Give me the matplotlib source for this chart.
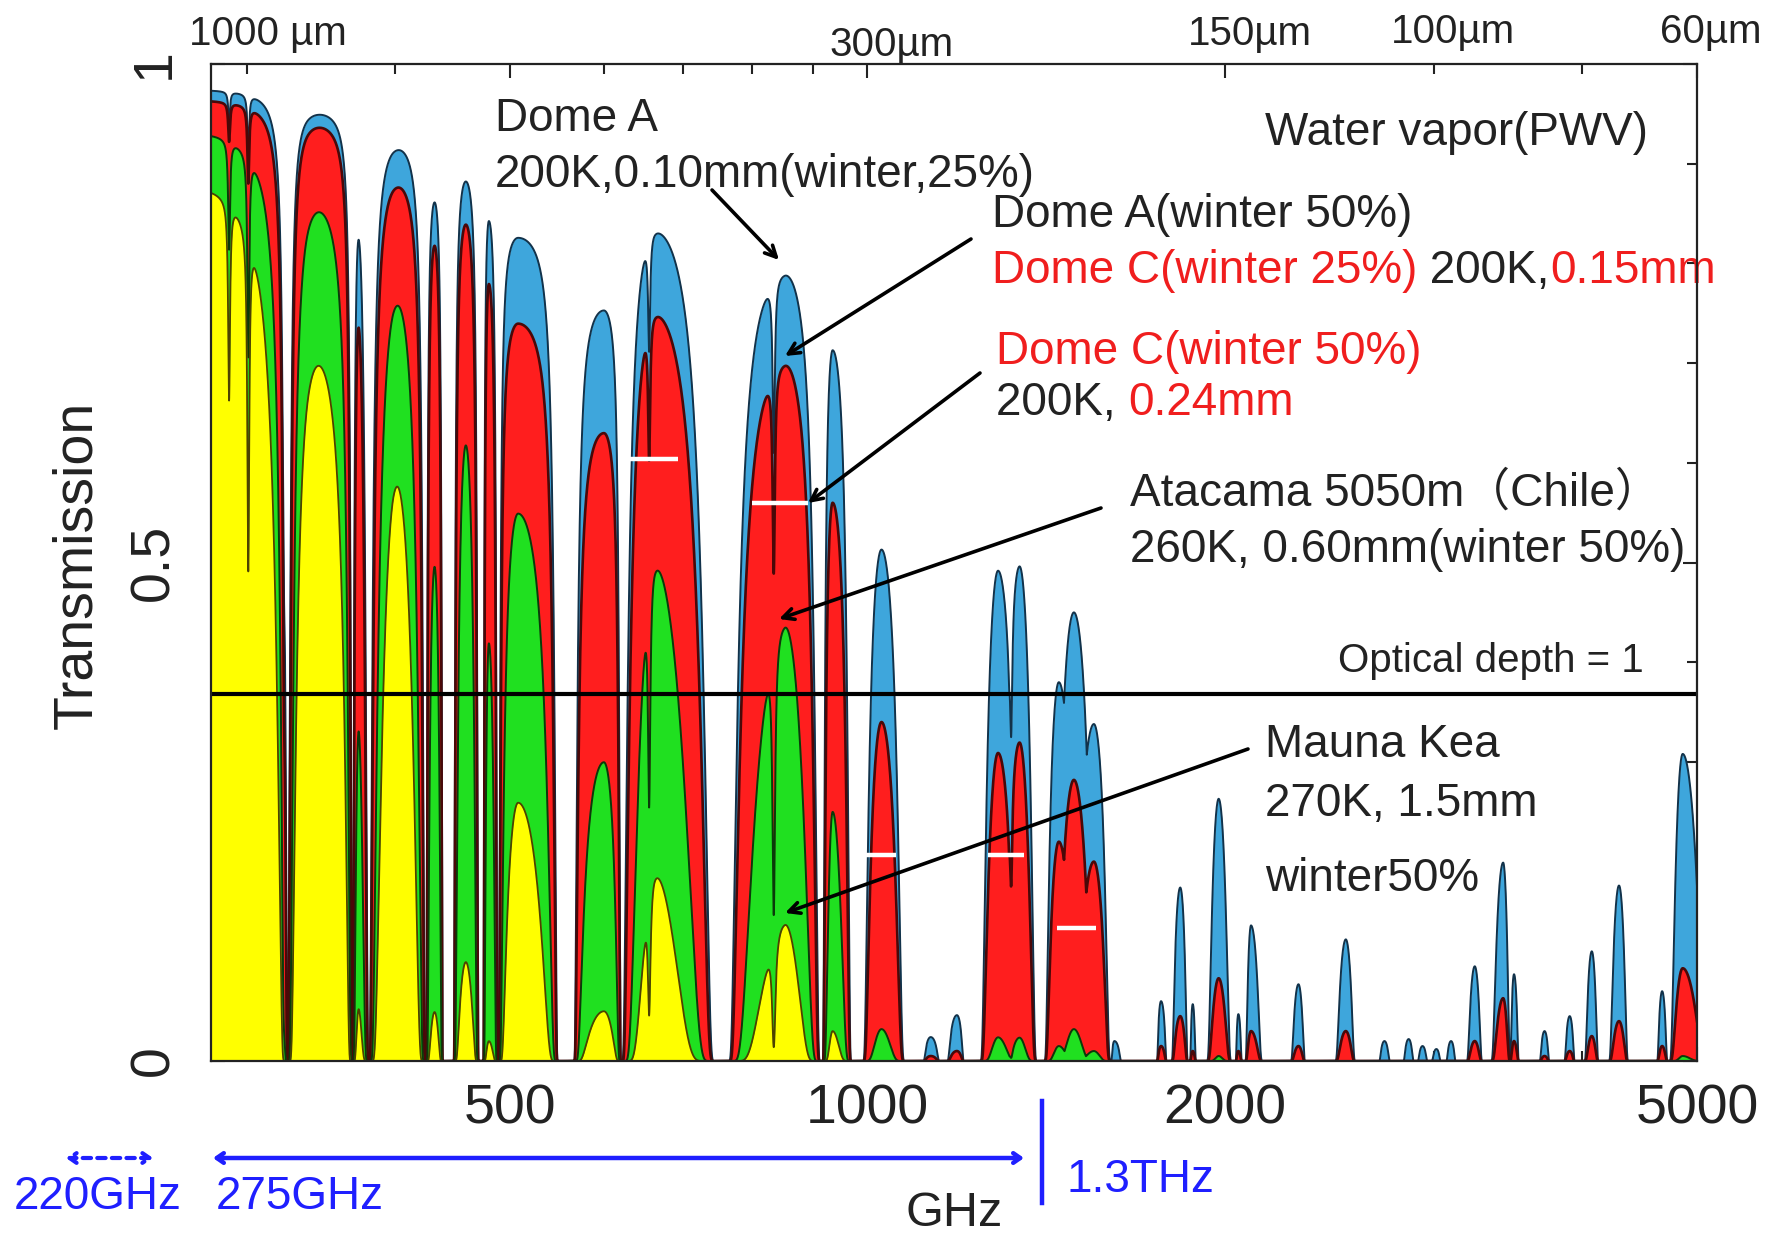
import numpy as np
import matplotlib
matplotlib.use("Agg")
import matplotlib.pyplot as plt
from matplotlib.ticker import FixedLocator, FixedFormatter, NullFormatter

W, H = 1771, 1238
plt.rcParams['font.family'] = ['Liberation Sans', 'Noto Sans CJK SC', 'DejaVu Sans']

# ---------------- data ----------------
# layers (back to front): PWV in mm
LAYER_PWV = [0.10, 0.15, 0.60, 1.5]
LAYER_COLORS = ['#3ea6dc', '#ff1e1e', '#20e020', '#ffff00']
LAYER_EDGES = ['#12324a', '#4a0808', '#0a3a0a', '#4d4200']
LAYER_EDGE_LW = [1.4, 1.9, 1.4, 1.3]

# atmospheric windows: peak frequency, bounding lines (GHz), sharpness
WIN_PEAK = [280, 338, 373, 399, 432, 459, 480, 508, 600, 662, 852, 935, 1028, 1131, 1190,
            1289, 1343, 1450, 1493, 1552, 1615, 1768, 1835, 1880, 1977, 2054,
            2105, 2308, 2530, 2727, 2858, 2936, 3016, 3103, 3249, 3433, 3506,
            3720, 3906, 4077, 4298, 4673, 4863]
WIN_LO = [230, 325.2, 368.5, 380.2, 424.8, 448, 474.7, 488.5, 565, 619, 760, 916, 988,
          1113, 1165, 1240, 1280, 1405, 1425, 1480, 1604, 1752, 1800, 1869, 1925, 2042,
          2078, 2268, 2470, 2695, 2825, 2905, 2985, 3070, 3190, 3340, 3475,
          3680, 3860, 4010, 4200, 4620, 4720]
WIN_HI = [325.2, 368.5, 380.2, 424.8, 439.2, 470.9, 488.5, 550, 621, 748, 916, 972, 1080,
          1153, 1208, 1360, 1395, 1515, 1570, 1610, 1640, 1790, 1867, 1893, 2035, 2070,
          2160, 2344, 2585, 2760, 2890, 2968, 3045, 3135, 3305, 3490, 3545,
          3760, 3950, 4140, 4390, 4730, 5150]
WIN_SHARP = [0.002, 0.004, 0.08, 0.03, 0.08, 0.06, 0.1, 0.04, 0.06, 0.15, 0.12, 0.2, 0.4,
             0.5, 0.5, 0.5, 0.5, 0.5, 0.5, 0.5, 0.5, 0.5, 0.6, 0.6, 0.8, 0.6,
             0.8, 0.8, 0.8, 0.6, 0.6, 0.6, 0.6, 0.6, 0.8, 0.8, 0.7,
             0.6, 0.6, 0.8, 0.8, 0.7, 0.8]
# peak transmission of every window for each layer
T_010 = [.975, .96, .93, .924, .863, .883, .843, .826, .753, .833, .79, .713, .513,
         .024, .046, .493, .499, .38, .45, .338, .02, .06, .174, .057, .263, .047,
         .136, .077, .122, .02, .022, .015, .012, .02, .095, .199, .087,
         .03, .045, .11, .176, .07, .308]
T_015 = [.965, .951, .87, .89, .82, .84, .78, .74, .63, .75, .70, .56, .34,
         .005, .01, .31, .322, .22, .282, .20, 0, .015, .045, .01, .083, .01,
         .03, .015, .03, 0, 0, 0, 0, 0, .02, .063, .02,
         .005, .01, .025, .04, .015, .093]
T_060 = [.935, .894, .55, .796, .50, .62, .42, .55, .30, .50, .44, .25, .032,
         0, 0, .024, .024, .015, .032, .01, 0, 0, 0, 0, .005, 0,
         0, 0, 0, 0, 0, 0, 0, 0, 0, 0, 0,
         0, 0, 0, 0, 0, .005]
T_150 = [.885, .773, .15, .64, .05, .10, .02, .26, .05, .19, .14, .03, 0,
         0, 0, 0, 0, 0, 0, 0, 0, 0, 0, 0, 0, 0,
         0, 0, 0, 0, 0, 0, 0, 0, 0, 0, 0,
         0, 0, 0, 0, 0, 0]

# narrow absorption lines inside windows: centre (GHz), opacity at 0.1 mm, half width (GHz)
LINE_F = [290, 301, 322.5, 325.2, 368.5, 380.2, 655.0, 834.1, 1322]
LINE_DEPTH = [0.03, 0.06, 0.3, 1.5, 0.8, 2.0, 0.15, 0.25, 0.3]
LINE_WIDTH = [0.6, 0.6, 0.8, 1.2, 1.0, 1.5, 1.5, 2.0, 3.0]

# white markers: Dome C winter 50% (0.24 mm)
BAR_LO = [619, 799, 996, 1264, 1444]
BAR_HI = [693, 891, 1057, 1354, 1557]
BAR_T = [0.604, 0.56, 0.207, 0.207, 0.133]

X_TICKS = [500, 1000, 2000, 5000]
X_MINOR = [300, 400, 600, 700, 800, 900, 3000, 4000]
Y_TICKS = [0, 0.5, 1]
TOP_LABELS = ['1000 µm', '300µm', '150µm', '100µm', '60µm']

# ---------------- model curves ----------------
f = np.geomspace(280, 5000, 60000)
lf = np.log10(f)
LAYER_PEAKS = [T_010, T_015, T_060, T_150]


def layer_curve(j):
    pwv = LAYER_PWV[j]
    scale = pwv / 0.1
    T = np.zeros_like(f)
    for pf, lo, hi, B, P in zip(WIN_PEAK, WIN_LO, WIN_HI, WIN_SHARP, LAYER_PEAKS[j]):
        if P <= 0:
            continue
        v = np.where(f >= pf, (lf - np.log10(pf)) / np.log10(hi / pf),
                     (np.log10(pf) - lf) / np.log10(pf / lo))
        inside = v < 1
        g = np.zeros_like(f)
        g[inside] = 1.0 / (1.0 - v[inside] ** 2) ** 2 - 1.0
        win = np.where(inside, P * np.exp(-B * scale * g), 0.0)
        T = np.maximum(T, win)
    tau = np.zeros_like(f)
    for fl, d, w in zip(LINE_F, LINE_DEPTH, LINE_WIDTH):
        tau += d * (pwv / 0.1) ** 0.8 * w ** 2 / ((f - fl) ** 2 + w ** 2)
    return T * np.exp(-tau)


fig = plt.figure(figsize=(W / 100, H / 100), dpi=100)
ax = fig.add_axes([211 / W, 1 - 1061 / H, (1697 - 211) / W, (1061 - 64) / H])
ax.set_xscale('log')
ax.set_xlim(280, 5000)
ax.set_ylim(0, 1)

for j in range(4):
    T = layer_curve(j)
    ax.fill_between(f, 0, T, color=LAYER_COLORS[j], lw=0, zorder=2 + j)
    ax.plot(f, T, color=LAYER_EDGES[j], lw=LAYER_EDGE_LW[j], zorder=2 + j)

for lo, hi, t in zip(BAR_LO, BAR_HI, BAR_T):
    ax.plot([lo, hi], [t, t], color='white', lw=3.2, solid_capstyle='butt', zorder=8)

ax.axhline(np.exp(-1), color='black', lw=3, zorder=9)

# axes styling
for s in ax.spines.values():
    s.set_linewidth(1.6)
    s.set_color('#222222')
    s.set_zorder(10)
ax.xaxis.set_major_locator(FixedLocator(X_TICKS))
ax.xaxis.set_major_formatter(FixedFormatter([str(v) for v in X_TICKS]))
ax.xaxis.set_minor_locator(FixedLocator(X_MINOR))
ax.xaxis.set_minor_formatter(NullFormatter())
ax.yaxis.set_major_locator(FixedLocator(Y_TICKS))
ax.yaxis.set_major_formatter(FixedFormatter(['0', '0.5', '1']))
ax.yaxis.set_minor_locator(FixedLocator([0.1, 0.2, 0.3, 0.4, 0.6, 0.7, 0.8, 0.9]))
ax.tick_params(which='both', direction='in', top=True, right=True, width=1.5,
               color='#222222', zorder=10)
ax.tick_params(which='major', length=10)
ax.tick_params(which='minor', length=7)
ax.tick_params(axis='x', which='major', labelsize=40, pad=16, labelcolor='#222222')
ax.tick_params(axis='y', which='major', labelsize=40, pad=22, labelcolor='#222222')
for lab in ax.get_yticklabels():
    lab.set_rotation(90)
    lab.set_va('center')


def fx(x):
    return x / W


def fy(y):
    return 1 - y / H


K = '#222222'
R = '#f01e1e'
BL = '#1f1fff'
FS = 33

fig.text(fx(77), fy(565), 'Transmission', rotation=90, fontsize=40, ha='center',
         va='center', color=K)
fig.text(fx(954), fy(1214), 'GHz', fontsize=35, ha='center', va='center', color=K)

# wavelength labels on top
for x, y, s in zip([268, 892, 1250, 1453, 1711], [34, 45, 34, 32, 32], TOP_LABELS):
    fig.text(fx(x), fy(y), s, fontsize=29, ha='center', va='center', color=K)


def chain(x, y, parts):
    t = fig.text(fx(x), fy(y), parts[0][0], fontsize=FS, color=parts[0][1],
                 ha='left', va='center')
    for s, c in parts[1:]:
        t = ax.annotate(s, xy=(1, 0), xycoords=t, ha='left', va='bottom',
                        fontsize=FS, color=c, annotation_clip=False)
    return t


fig.text(fx(495), fy(119), 'Dome A', fontsize=FS, ha='left', va='center', color=K)
fig.text(fx(495), fy(175), '200K,0.10mm(winter,25%)', fontsize=FS, ha='left',
         va='center', color=K)
fig.text(fx(1265), fy(133), 'Water vapor(PWV)', fontsize=FS, ha='left', va='center',
         color=K)
fig.text(fx(992), fy(215), 'Dome A(winter 50%)', fontsize=FS, ha='left', va='center',
         color=K)
chain(992, 271, [('Dome C(winter 25%)', R), (' 200K,', K), ('0.15mm', R)])
fig.text(fx(996), fy(352), 'Dome C(winter 50%)', fontsize=FS, ha='left', va='center',
         color=R)
chain(996, 403, [('200K, ', K), ('0.24mm', R)])
fig.text(fx(1130), fy(494), 'Atacama 5050m（Chile）', fontsize=FS, ha='left',
         va='center', color=K)
fig.text(fx(1130), fy(550), '260K, 0.60mm(winter 50%)', fontsize=FS, ha='left',
         va='center', color=K)
fig.text(fx(1338), fy(661), 'Optical depth = 1', fontsize=29, ha='left', va='center',
         color=K)
fig.text(fx(1265), fy(745), 'Mauna Kea', fontsize=FS, ha='left', va='center', color=K)
fig.text(fx(1265), fy(804), '270K, 1.5mm', fontsize=FS, ha='left', va='center', color=K)
fig.text(fx(1265), fy(879), 'winter50%', fontsize=FS, ha='left', va='center', color=K)

ARROWS = [((712, 190), (779, 260)), ((971, 239), (785, 356)),
          ((980, 373), (808, 503)), ((1101, 508), (779, 619)),
          ((1248, 749), (785, 913))]
for (x0, y0), (x1, y1) in ARROWS:
    ax.annotate('', xy=(fx(x1), fy(y1)), xytext=(fx(x0), fy(y0)),
                xycoords='figure fraction', textcoords='figure fraction',
                arrowprops=dict(arrowstyle='->,head_length=0.8,head_width=0.4',
                                lw=2.6, color='black', shrinkA=0, shrinkB=0),
                annotation_clip=False, zorder=12)

# blue band annotations under the axis
ax.annotate('', xy=(fx(66), fy(1158)), xytext=(fx(153), fy(1158)),
            xycoords='figure fraction', textcoords='figure fraction',
            arrowprops=dict(arrowstyle='<->,head_length=0.5,head_width=0.35', lw=3,
                            color=BL, linestyle=(0, (2, 1.5)), shrinkA=0, shrinkB=0),
            annotation_clip=False)
ax.annotate('', xy=(fx(213), fy(1158)), xytext=(fx(1024), fy(1158)),
            xycoords='figure fraction', textcoords='figure fraction',
            arrowprops=dict(arrowstyle='<->,head_length=0.5,head_width=0.35', lw=3.2,
                            color=BL, shrinkA=0, shrinkB=0),
            annotation_clip=False)
fig.add_artist(plt.Line2D([fx(1042), fx(1042)], [fy(1101), fy(1203)], color=BL, lw=3.2))
fig.text(fx(98), fy(1197), '220GHz', fontsize=FS, ha='center', va='center', color=BL)
fig.text(fx(300), fy(1197), '275GHz', fontsize=FS, ha='center', va='center', color=BL)
fig.text(fx(1066), fy(1180), '1.3THz', fontsize=FS, ha='left', va='center', color=BL)

fig.savefig('out.png', dpi=100)
